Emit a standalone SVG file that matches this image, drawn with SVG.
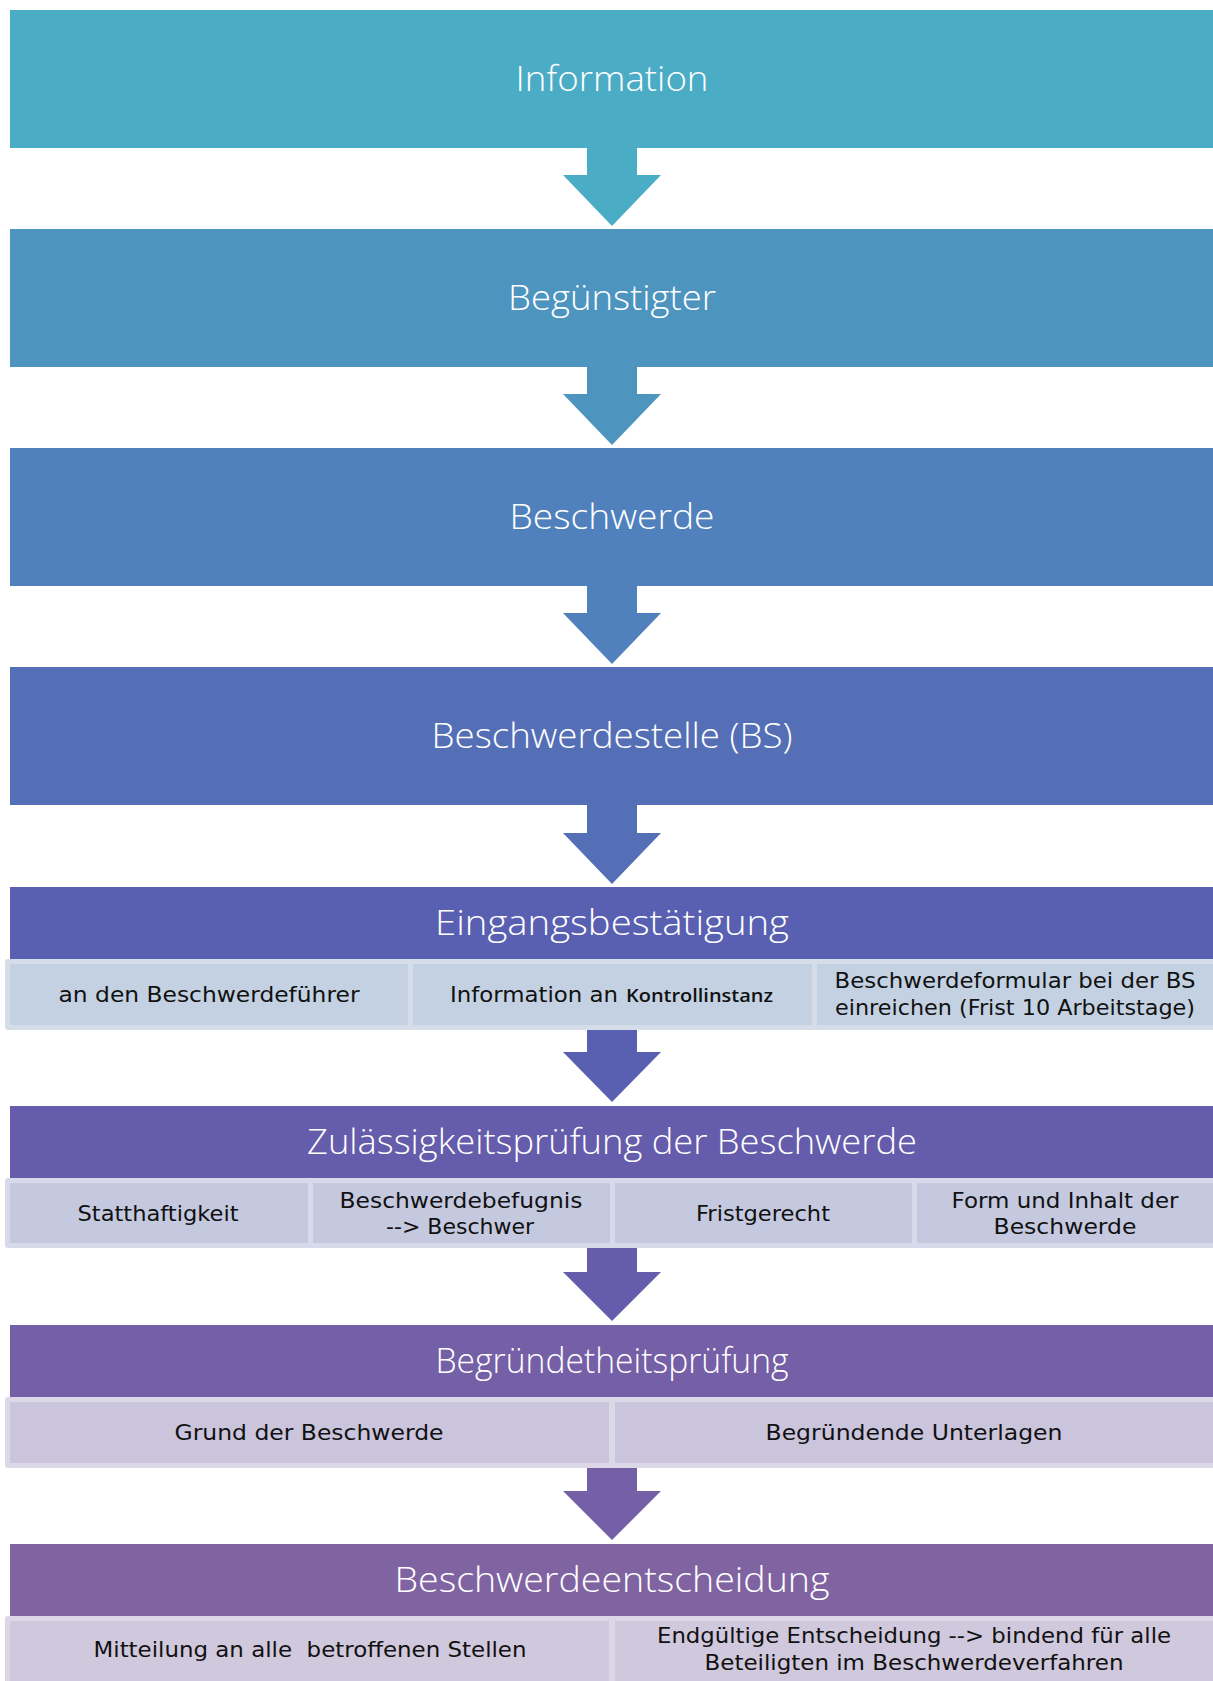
<svg xmlns="http://www.w3.org/2000/svg" width="1213" height="1681" viewBox="0 0 1213 1681">
<style>
.hd{font-family:"Open Sans","DejaVu Sans",sans-serif;font-weight:300;font-size:34px;fill:#ffffff;text-anchor:middle}
.sb{font-family:"DejaVu Sans","Liberation Sans",sans-serif;font-size:21px;fill:#111111;text-anchor:middle}
.kt{font-family:"Open Sans","Liberation Sans",sans-serif;font-weight:600;font-size:18px;fill:#111111}
</style>
<rect width="1213" height="1681" fill="#ffffff"/>
<g id="connectors">
<path d="M587,148 L637,148 L637,175 L661,175 L612,226 L563,175 L587,175 Z" fill="#4bacc6"/>
<path d="M587,367 L637,367 L637,394 L661,394 L612,445 L563,394 L587,394 Z" fill="#4d94bf"/>
<path d="M587,586 L637,586 L637,613 L661,613 L612,664 L563,613 L587,613 Z" fill="#5081bd"/>
<path d="M587,805 L637,805 L637,833 L661,833 L612,884 L563,833 L587,833 Z" fill="#556fb7"/>
<path d="M587,1029 L637,1029 L637,1052 L661,1052 L612,1102 L563,1052 L587,1052 Z" fill="#5a60b1"/>
<path d="M587,1247 L637,1247 L637,1272 L661,1272 L612,1321 L563,1272 L587,1272 Z" fill="#655cab"/>
<path d="M587,1467 L637,1467 L637,1491 L661,1491 L612,1540 L563,1491 L587,1491 Z" fill="#7560a7"/>
</g>
<g id="node-information">
<rect x="10" y="10" width="1204" height="138" fill="#4bacc6"/>
<text class="hd" x="612" y="91" textLength="193" lengthAdjust="spacingAndGlyphs">Information</text>
</g>
<g id="node-beguenstigter">
<rect x="10" y="229" width="1204" height="138" fill="#4d94bf"/>
<text class="hd" x="612" y="310" textLength="208" lengthAdjust="spacingAndGlyphs">Begünstigter</text>
</g>
<g id="node-beschwerde">
<rect x="10" y="448" width="1204" height="138" fill="#5081bd"/>
<text class="hd" x="612" y="529" textLength="205" lengthAdjust="spacingAndGlyphs">Beschwerde</text>
</g>
<g id="node-beschwerdestelle">
<rect x="10" y="667" width="1204" height="138" fill="#556fb7"/>
<text class="hd" x="612" y="748" textLength="361" lengthAdjust="spacingAndGlyphs">Beschwerdestelle (BS)</text>
</g>
<g id="node-eingangsbestaetigung">
<rect x="10" y="887" width="1204" height="72" fill="#5a60b1"/>
<text class="hd" x="612" y="935" textLength="354" lengthAdjust="spacingAndGlyphs">Eingangsbestätigung</text>
<rect x="5" y="959" width="1214" height="71" rx="3" fill="#d5dde8"/>
<rect x="10" y="964" width="398" height="61" fill="#c3d1e2"/>
<rect x="413" y="964" width="399" height="61" fill="#c3d1e2"/>
<rect x="817" y="964" width="397" height="61" fill="#c3d1e2"/>
<text class="sb" x="209" y="1002" textLength="301" lengthAdjust="spacingAndGlyphs">an den Beschwerdeführer</text>
<text class="sb" style="text-anchor:start"><tspan x="450" y="1002" textLength="168" lengthAdjust="spacingAndGlyphs">Information an</tspan><tspan class="kt" x="626" y="1002" textLength="147" lengthAdjust="spacingAndGlyphs">Kontrollinstanz</tspan></text>
<text class="sb" x="1015" y="988" textLength="361" lengthAdjust="spacingAndGlyphs">Beschwerdeformular bei der BS</text>
<text class="sb" x="1015" y="1015" textLength="360" lengthAdjust="spacingAndGlyphs">einreichen (Frist 10 Arbeitstage)</text>
</g>
<g id="node-zulaessigkeitspruefung">
<rect x="10" y="1106" width="1204" height="72" fill="#655cab"/>
<text class="hd" x="612" y="1154" textLength="610" lengthAdjust="spacingAndGlyphs">Zulässigkeitsprüfung der Beschwerde</text>
<rect x="5" y="1178" width="1214" height="70" rx="3" fill="#d8d9ea"/>
<rect x="10" y="1183" width="298" height="60" fill="#c5c9e0"/>
<rect x="313" y="1183" width="297" height="60" fill="#c5c9e0"/>
<rect x="615" y="1183" width="297" height="60" fill="#c5c9e0"/>
<rect x="917" y="1183" width="297" height="60" fill="#c5c9e0"/>
<text class="sb" x="158" y="1221" textLength="161" lengthAdjust="spacingAndGlyphs">Statthaftigkeit</text>
<text class="sb" x="461" y="1208" textLength="243" lengthAdjust="spacingAndGlyphs">Beschwerdebefugnis</text>
<text class="sb" x="460" y="1234" textLength="148" lengthAdjust="spacingAndGlyphs">--&gt; Beschwer</text>
<text class="sb" x="763" y="1221" textLength="134" lengthAdjust="spacingAndGlyphs">Fristgerecht</text>
<text class="sb" x="1065" y="1208" textLength="227" lengthAdjust="spacingAndGlyphs">Form und Inhalt der</text>
<text class="sb" x="1065" y="1234" textLength="143" lengthAdjust="spacingAndGlyphs">Beschwerde</text>
</g>
<g id="node-begruendetheitspruefung">
<rect x="10" y="1325" width="1204" height="72" fill="#7560a7"/>
<text class="hd" x="612" y="1373" textLength="353" lengthAdjust="spacingAndGlyphs">Begründetheitsprüfung</text>
<rect x="5" y="1397" width="1214" height="71" rx="3" fill="#dbd8e8"/>
<rect x="10" y="1402" width="599" height="61" fill="#cac5dd"/>
<rect x="615" y="1402" width="599" height="61" fill="#cac5dd"/>
<text class="sb" x="309" y="1440" textLength="269" lengthAdjust="spacingAndGlyphs">Grund der Beschwerde</text>
<text class="sb" x="914" y="1440" textLength="297" lengthAdjust="spacingAndGlyphs">Begründende Unterlagen</text>
</g>
<g id="node-beschwerdeentscheidung">
<rect x="10" y="1544" width="1204" height="72" fill="#8064a2"/>
<text class="hd" x="612" y="1592" textLength="435" lengthAdjust="spacingAndGlyphs">Beschwerdeentscheidung</text>
<rect x="5" y="1616" width="1214" height="75" rx="3" fill="#ddd6e6"/>
<rect x="10" y="1621" width="599" height="70" fill="#d0c8dc"/>
<rect x="615" y="1621" width="599" height="70" fill="#d0c8dc"/>
<text class="sb" x="310" y="1657" textLength="433" lengthAdjust="spacingAndGlyphs" xml:space="preserve">Mitteilung an alle  betroffenen Stellen</text>
<text class="sb" x="914" y="1643" textLength="514" lengthAdjust="spacingAndGlyphs">Endgültige Entscheidung --&gt; bindend für alle</text>
<text class="sb" x="914" y="1670" textLength="419" lengthAdjust="spacingAndGlyphs">Beteiligten im Beschwerdeverfahren</text>
</g>
</svg>
